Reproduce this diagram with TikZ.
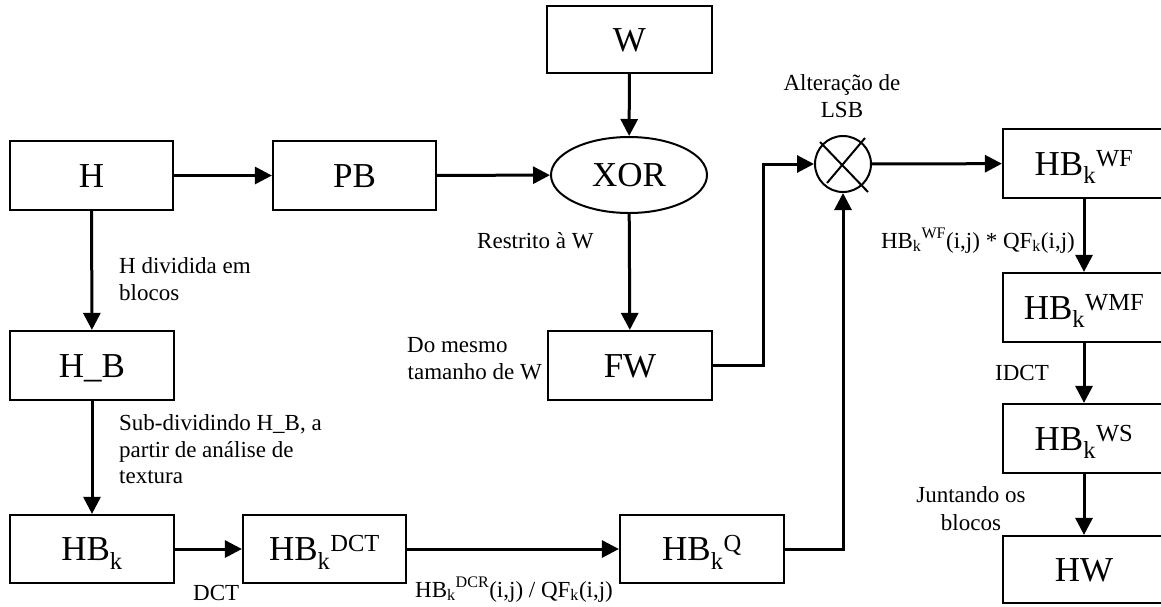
\documentclass[tikz,border=0pt]{standalone}
\usepackage{fontspec}
\setmainfont{Liberation Serif}
\usetikzlibrary{arrows.meta,shapes.geometric}
\newcommand\boxfont{\fontsize{35}{41}\selectfont}
\newcommand\lblfont{\fontsize{23}{27}\selectfont}
\begin{document}
\begin{tikzpicture}[x=1pt,y=-1pt,
  box/.style={draw,line width=2.2pt,inner sep=0pt,minimum width=163pt,minimum height=69pt,
    font=\boxfont,text height=23.2pt,text depth=0pt},
  conn/.style={line width=3pt,-{Triangle[length=17pt,width=17pt]}},
  lbl/.style={font=\lblfont,inner sep=0pt}]
\useasboundingbox (0,0) rectangle (1161,606);
% boxes
\node[box,minimum width=165pt,minimum height=67pt] (W) at (629.5,39.5) {W};
\node[box] (H) at (91.5,175.5) {H};
\node[box] (PB) at (354.5,175.5) {PB};
\node[draw,ellipse,line width=2pt,inner sep=0pt,minimum width=156pt,minimum height=76pt,
  font=\boxfont,text height=23.2pt,text depth=0pt] (XOR) at (629,175) {XOR};
\node[box,minimum width=164pt] (HBl) at (92,365.5) {H\_B};
\node[box,minimum width=164pt] (FW) at (630,365.5) {FW};
\node[box,minimum width=164pt,minimum height=68pt] (HBk) at (92,549) {HB\textsubscript{k}};
\node[box,minimum height=68pt] (HBdct) at (324.5,549) {HB\textsubscript{k}\textsuperscript{DCT}};
\node[box,minimum width=164pt,minimum height=68pt] (HBq) at (702,549) {HB\textsubscript{k}\textsuperscript{Q}};
\node[draw,circle,line width=2pt,inner sep=0pt,minimum size=56pt] (mul) at (843,164) {};
\draw[line width=2pt] ([shift={(-23,-22)}]mul.center) -- ([shift={(25,28)}]mul.center);
\draw[line width=2pt] ([shift={(-16,19)}]mul.center) -- ([shift={(22,-26)}]mul.center);
\node[box,minimum width=162pt] (HBwf) at (1084,163.5) {HB\textsubscript{k}\textsuperscript{WF}};
\node[box,minimum width=162pt] (HBwmf) at (1084,307.5) {HB\textsubscript{k}\textsuperscript{WMF}};
\node[box,minimum width=162pt] (HBws) at (1084,438.5) {HB\textsubscript{k}\textsuperscript{WS}};
\node[box,minimum width=162pt,minimum height=67pt] (HW) at (1084,569.5) {HW};
% connectors
\draw[conn] (H) -- (PB);
\draw[conn] (PB) -- (XOR);
\draw[conn] (W) -- (XOR);
\draw[conn] (XOR) -- (FW);
\draw[conn] (H) -- (HBl);
\draw[conn] (HBl) -- (HBk);
\draw[conn] (HBk) -- (HBdct);
\draw[conn] (HBdct) -- (HBq);
\draw[conn] (HBq.east) -| (mul.south);
\draw[conn] (FW.east) -- ++(50,0) |- (mul.west);
\draw[conn] (mul) -- (HBwf);
\draw[conn] (HBwf) -- (HBwmf);
\draw[conn] (HBwmf) -- (HBws);
\draw[conn] (HBws) -- (HW);
% labels
\node[lbl,anchor=base west] (l1a) at (119,273) {H dividida em};
\node[lbl,anchor=base west] (l1b) at (119,300) {blocos};
\node[lbl,anchor=base west] (l2a) at (119,430) {Sub-dividindo H\_B, a};
\node[lbl,anchor=base west] (l2b) at (119,457) {partir de análise de};
\node[lbl,anchor=base west] (l2c) at (119,483) {textura};
\node[lbl,anchor=base west] (l3) at (477,248) {Restrito à W};
\node[lbl,anchor=base west] (l4a) at (407,352) {Do mesmo};
\node[lbl,anchor=base east] (l4b) at (542,379) {tamanho de W};
\node[lbl,anchor=base] (l5a) at (842,90) {Alteração de};
\node[lbl,anchor=base] (l5b) at (842,117) {LSB};
\node[lbl,anchor=base east] (l6) at (1075,248) {HB\textsubscript{k}\textsuperscript{WF}(i,j) * QF\textsubscript{k}(i,j)};
\node[lbl,anchor=base west] (l7) at (995,380) {IDCT};
\node[lbl,anchor=base] (l8a) at (971,502) {Juntando os};
\node[lbl,anchor=base] (l8b) at (971,530) {blocos};
\node[lbl,anchor=base west] (l9) at (193,600) {DCT};
\node[lbl,anchor=base west] (l10) at (415,597) {HB\textsubscript{k}\textsuperscript{DCR}(i,j) / QF\textsubscript{k}(i,j)};
\end{tikzpicture}
\end{document}
